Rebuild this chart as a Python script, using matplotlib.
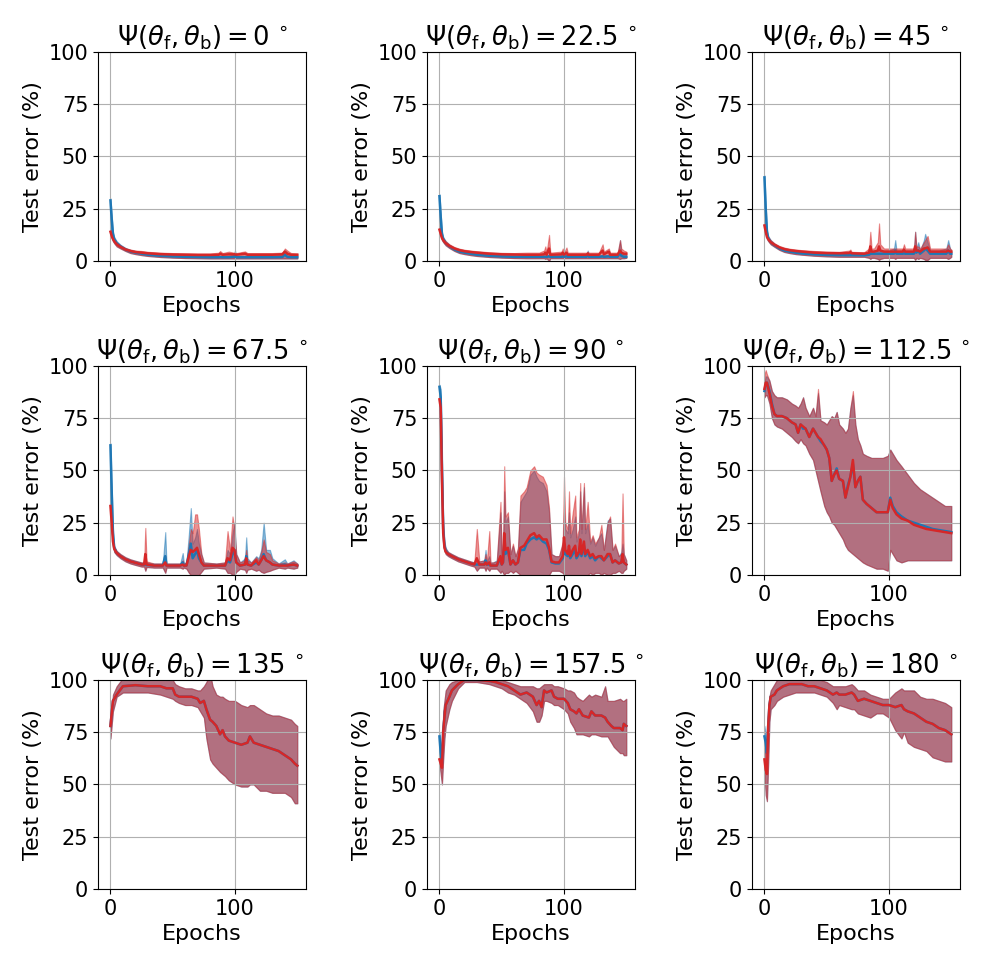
import numpy as np
import matplotlib
matplotlib.use("Agg")
import matplotlib.pyplot as plt

# angle between forward and backward weights, one panel each
angles = ["0", "22.5", "45", "67.5", "90", "112.5", "135", "157.5", "180"]

# columns: epoch, blue mean, red mean, band low, blue band high, red band high
rows_0 = [
    (0, 29, 14, 13, 30, 15), (1, 20, 12, 11, 22, 13), (2, 13, 10.5, 9.5, 14, 11.5),
    (3, 10.5, 9.5, 8.5, 11.5, 10.5), (5, 8.5, 8, 7, 9.5, 9), (8, 7, 6.8, 6, 7.8, 7.5),
    (12, 5.5, 5.5, 4.8, 6.3, 6.2), (16, 4.5, 4.8, 3.8, 5.3, 5.5), (20, 4, 4.3, 3.3, 4.8, 5),
    (25, 3.5, 4, 2.8, 4.3, 4.8), (30, 3, 3.7, 2.4, 3.8, 4.4), (40, 2.5, 3.3, 1.9, 3.2, 4),
    (50, 2.2, 3.1, 1.6, 2.9, 3.8), (60, 2, 3, 1.4, 2.7, 3.7), (70, 1.9, 2.9, 1.3, 2.6, 3.6),
    (80, 1.8, 2.9, 1.2, 2.5, 3.6), (87, 1.8, 3, 1.2, 2.5, 4), (88, 1.9, 3.5, 1.2, 2.6, 4.8),
    (90, 1.8, 3, 1.2, 2.5, 3.8), (95, 1.8, 3.2, 1.2, 2.6, 4.5), (99, 2, 3.2, 1.2, 3, 4),
    (100, 2.5, 3.2, 1.2, 5, 4), (101, 1.8, 3, 1.2, 2.6, 3.8), (108, 1.8, 3.5, 1.2, 2.6, 4.6),
    (110, 1.8, 3, 1.2, 2.6, 3.8), (120, 1.8, 3, 1.2, 2.6, 3.8), (130, 1.8, 3, 1.2, 2.6, 3.8),
    (138, 1.9, 3.2, 1.2, 3, 4), (140, 3, 4.5, 1.2, 5, 6), (142, 2, 3.5, 1.2, 4, 5),
    (145, 1.8, 3, 1.2, 2.6, 3.8), (150, 1.8, 3, 1.2, 2.6, 3.6),
]

rows_22 = [
    (0, 31, 15, 14, 32, 16), (1, 21, 13, 12, 23, 14), (2, 13, 11, 10, 14, 12),
    (3, 10.5, 10, 9, 11.5, 11), (5, 8.5, 8.5, 7.5, 9.5, 9.5), (8, 7, 7.2, 6.2, 7.8, 8),
    (12, 5.5, 6, 4.8, 6.3, 6.7), (16, 4.5, 5.2, 3.8, 5.3, 5.9), (20, 4, 4.7, 3.3, 4.8, 5.4),
    (25, 3.5, 4.3, 2.8, 4.3, 5), (30, 3, 4, 2.4, 3.8, 4.7), (40, 2.5, 3.5, 1.9, 3.2, 4.2),
    (50, 2.2, 3.2, 1.6, 2.9, 3.9), (60, 2, 3.1, 1.4, 2.7, 3.8), (70, 2, 3, 1.3, 2.7, 4),
    (80, 2, 3, 1.3, 2.7, 4), (84, 2, 3.2, 1.3, 2.7, 5), (85, 2, 4, 1, 2.7, 7),
    (86, 2, 3, 1.3, 2.7, 4), (88, 2.2, 6, 0, 3, 12.5), (89, 2, 3, 1.3, 2.7, 4),
    (98, 2, 3.2, 1.3, 2.8, 4.5), (99, 2.2, 4, 1.3, 3, 6), (100, 2, 3, 1.3, 2.7, 4),
    (102, 2.2, 4, 1.3, 3, 6.5), (103, 2, 3, 1.3, 2.7, 4), (110, 2, 3, 1.3, 2.7, 4),
    (118, 2, 3, 1.3, 2.7, 4), (119, 3, 3.5, 1.3, 5, 4.5), (120, 2, 3, 1.3, 2.7, 4),
    (128, 2, 3, 1.3, 2.7, 4), (131, 2.2, 5, 1.3, 3, 8), (132, 2, 3.2, 1.3, 2.7, 4.5),
    (136, 2.2, 4.5, 1.3, 3, 6), (137, 2, 3, 1.3, 2.7, 4), (143, 2, 3, 1.3, 2.7, 4),
    (145, 4, 5, 1, 10, 10), (146, 2.5, 4, 1.3, 4, 6), (148, 2, 3.5, 1.3, 3, 5),
    (150, 2, 3.5, 1.5, 3, 4.5),
]

rows_45 = [
    (0, 40, 17, 16, 41, 18), (1, 25, 14, 13, 27, 15), (2, 14, 11.5, 10.5, 15, 12.5),
    (3, 11, 10.5, 9.5, 12, 11.5), (5, 9, 9, 8, 10, 10), (8, 7.5, 7.8, 6.8, 8.3, 8.5),
    (12, 6, 6.5, 5.3, 6.8, 7.2), (16, 5, 5.7, 4.3, 5.8, 6.4), (20, 4.5, 5.2, 3.8, 5.3, 5.9),
    (25, 4, 4.8, 3.3, 4.8, 5.5), (30, 3.6, 4.5, 3, 4.4, 5.2), (40, 3.2, 4, 2.5, 4, 4.8),
    (50, 2.9, 3.8, 2.2, 3.7, 4.5), (60, 2.8, 3.7, 2, 3.6, 4.4), (68, 2.8, 3.8, 2, 3.6, 5),
    (69, 2.8, 4.2, 2, 3.6, 5.5), (70, 2.8, 3.7, 2, 3.6, 4.4), (80, 2.7, 3.5, 2, 3.5, 4.2),
    (84, 3, 4, 1.5, 4, 6), (85, 3.5, 7, 1, 5, 14), (86, 3.5, 4.5, 1.5, 5, 6),
    (88, 3.5, 4.5, 1.5, 5, 6), (91, 3.5, 5, 1, 5, 9), (92, 3.5, 7, 0.5, 6, 18),
    (93, 3.5, 5, 1, 5, 8), (96, 3.5, 4.5, 1.5, 5, 6), (100, 3.5, 4.5, 1.5, 5, 6),
    (104, 3.5, 4.5, 1.5, 6, 6), (105, 5, 4.5, 1, 10, 6), (106, 3.5, 4.5, 1.5, 5, 6),
    (111, 3.5, 4.5, 1.5, 5, 6), (112, 3.7, 5.5, 1.5, 5, 8), (113, 3.5, 4.5, 1.5, 5, 6),
    (120, 3.5, 4.5, 1.5, 5, 6), (121, 6, 7, 0.5, 14, 14), (122, 4, 5, 1.5, 6, 7),
    (123.5, 5, 5, 1, 9, 7), (125, 3.5, 4.5, 1.5, 5, 6), (128, 5, 6, 1, 10, 9),
    (129, 6, 6, 0.5, 13, 10), (131, 5, 6.5, 0.5, 9, 12), (133, 3.5, 4.5, 1.5, 5, 6),
    (140, 3.5, 4.5, 1.5, 5, 6), (146, 3.5, 4.5, 1.5, 6, 6), (147.5, 5, 5, 1, 10, 8),
    (149, 3.5, 4.5, 1.5, 6, 6), (150, 3.5, 4.5, 2, 5, 5.5),
]

rows_67 = [
    (0, 62, 33, 30, 63, 34), (1, 40, 25, 22, 42, 27), (2, 20, 16, 14, 22, 18),
    (3, 13, 12.5, 11, 14, 13.5), (5, 10.5, 10.5, 9.5, 11.5, 11.5), (8, 9, 9, 8, 10, 10),
    (12, 7.5, 7.5, 6.5, 8.5, 8.5), (16, 6.5, 6.5, 5.5, 7.5, 7.5), (20, 5.8, 5.8, 4.8, 6.8, 6.8),
    (25, 5, 5, 4, 6, 6), (27, 5, 5, 4, 6, 6), (28, 5, 10, 2, 6.5, 22.5),
    (29, 4.8, 5, 3.8, 6, 6.5), (35, 4.5, 4.5, 3.5, 5.5, 5.5), (42, 4.5, 4.5, 3.5, 5.5, 5.5),
    (44, 9, 6, 1, 20.5, 9), (45, 4.5, 4.5, 3.5, 5.5, 5.5), (56, 4.5, 4.5, 3.5, 5.5, 5.5),
    (58, 6, 5, 3, 10.5, 7), (59, 4.5, 4.5, 3.5, 5.5, 5.5), (61, 4.5, 4.5, 3, 6, 6),
    (63, 10, 9, 1, 20, 15), (64.5, 15, 12, 0, 32, 22), (66, 8, 11, 0, 15, 20),
    (68, 10, 12, 0, 18, 29), (69.5, 12, 13, 0, 22, 29), (71, 8, 10, 0, 15, 22),
    (73, 6, 6, 1.5, 10, 10), (75, 4.5, 4.5, 3, 6, 6), (85, 4.5, 4.5, 3.5, 5.5, 5.5),
    (92, 4.5, 4.5, 3, 6, 6), (94, 7, 8, 1, 12, 21), (96, 6, 7, 1, 10, 12),
    (98, 10, 13, 0, 20, 28), (99.5, 12, 12, 0, 25, 22), (101, 6, 6, 1.5, 10, 10),
    (104, 4.5, 4.5, 3, 6, 6), (108, 5, 5, 2.5, 8, 7), (109, 9, 8, 1, 18, 12),
    (110, 5, 5, 2.5, 8, 7), (113, 4.5, 4.5, 3, 6, 6), (117, 6, 7, 2, 9, 8.5),
    (119, 5, 5, 2.5, 8, 7), (121, 7, 7, 1.5, 12, 11), (123, 10, 9, 1, 25, 17),
    (125, 7, 7, 1.5, 12, 11), (128, 6, 6, 2, 12, 10), (130, 5, 5, 2.5, 8, 7),
    (135, 4.5, 4.5, 3.5, 5.5, 5.5), (140, 5, 4.5, 3, 7.5, 6), (142, 4.5, 4.5, 3.5, 5.5, 5.5),
    (147, 5, 5, 3, 7, 6.5), (150, 4.5, 4.5, 3.5, 5.5, 5.5),
]

rows_90 = [
    (0, 90, 84, 82, 91, 86), (1, 85, 80, 75, 89, 84), (2, 50, 45, 35, 60, 55),
    (3, 22, 20, 17, 26, 24), (4, 14, 13, 12, 16, 15), (5, 11.5, 11, 10, 13, 12.5),
    (7, 10, 10, 9, 11, 11), (10, 9, 9, 8, 10, 10), (15, 7.5, 7.5, 6.5, 8.5, 8.5),
    (20, 6.5, 6.5, 5.5, 7.5, 7.5), (25, 5.5, 5.5, 4.5, 6.5, 6.5), (28, 5, 5, 4, 6, 6),
    (30, 5, 8, 2, 7, 22), (32, 5, 5, 3.5, 6.5, 6.5), (36, 5, 5, 3.5, 7, 7),
    (37, 7, 6, 2, 12, 10), (38, 5, 5, 3.5, 6.5, 6), (40, 5, 6, 2, 9, 21),
    (41, 4.5, 4.5, 3, 6, 6), (43, 4.5, 4.5, 3, 6, 6), (46, 4.5, 4.5, 3, 7, 6.5),
    (49, 8, 9, 1, 30, 35), (50, 5, 5, 2, 8, 8), (51, 6, 6, 1, 12, 12),
    (52, 15, 20, 0, 40, 52), (53, 10, 12, 1, 25, 28), (55, 12, 13, 1, 28, 30),
    (57, 5, 5, 2, 10, 10), (59, 7, 7, 1, 14, 15), (61, 5, 5, 2, 9, 9),
    (63, 6, 6, 1, 12, 13), (65, 12, 13, 0, 35, 38), (68, 12, 14, 0, 38, 40),
    (70, 15, 16, 0, 40, 42), (73, 17, 19, 0, 48, 50), (76, 18, 20, 0, 50, 52),
    (78, 17, 18, 0, 47, 49), (80, 18, 19, 0, 45, 48), (83, 16, 17, 0, 44, 47),
    (86, 15, 17, 0, 40, 43), (88, 12, 13, 0, 30, 32), (90, 6, 6.5, 2, 10, 10),
    (93, 5.5, 6, 2, 9, 9), (96, 5.5, 6, 2, 9, 9), (99, 8, 9, 1, 15, 16),
    (100, 14, 18, 0, 30, 47), (101, 10, 12, 0, 22, 25), (103, 9, 10, 0, 20, 22),
    (104, 12, 14, 0, 30, 40), (105, 8, 9, 0, 18, 20), (107, 10, 12, 0, 22, 30),
    (109, 12, 14, 0, 28, 38), (110, 8, 9, 0, 16, 18), (112, 10, 11, 0, 20, 22),
    (113, 14, 17, 0, 40, 44), (114, 9, 10, 0, 20, 22), (116, 14, 16, 0, 42, 44),
    (117, 9, 10, 0, 20, 22), (119, 11, 12, 0, 25, 35), (121, 8, 9, 1, 15, 16),
    (123, 9, 10, 0, 18, 19), (125, 7, 8, 1, 14, 15), (128, 9, 9, 1, 18, 18),
    (130, 8, 9, 0, 20, 24), (132, 7, 7, 1, 12, 12), (135, 9, 10, 0, 26, 25),
    (137, 10, 10, 0, 27, 28), (139, 6, 6, 1, 12, 12), (141, 7, 7, 1, 14, 15),
    (144, 5.5, 5.5, 2, 9, 9), (146, 6, 6, 1, 11, 10), (147, 8, 10, 1, 15, 39),
    (148, 6, 6, 2, 10, 10), (150, 5, 5, 3, 7, 7),
]

rows_112 = [
    (0, 88, 89, 85, 92, 96), (1, 91, 92, 86, 95, 98), (2, 92, 92, 86, 95, 96),
    (4, 88, 87, 82, 93, 93), (6, 82, 81, 75, 88, 88), (8, 77, 77, 72, 86, 86),
    (10, 76, 76, 71, 85, 85), (14, 76, 76, 70, 85, 85), (18, 75, 75, 68, 84, 84),
    (22, 73, 73, 66, 82, 82), (25, 72, 72, 64, 81, 81), (27, 68, 68, 63, 80, 80),
    (29, 72, 72, 65, 82, 82), (31, 70, 71, 63, 85, 85), (33, 70, 70, 62, 80, 80),
    (36, 66, 66, 58, 76, 76), (39, 70, 70, 55, 80, 80), (41, 68, 68, 50, 76, 76),
    (43, 66, 66, 45, 87, 89), (45, 64, 65, 40, 74, 74), (48, 62, 62, 33, 73, 73),
    (50, 60, 60, 30, 72, 72), (52, 56, 56, 28, 74, 74), (54, 45, 45, 25, 76, 76),
    (56, 48, 48, 24, 75, 75), (58, 51, 50, 22, 78, 78), (60, 46, 46, 20, 72, 72),
    (63, 45, 45, 17, 70, 70), (65, 37, 37, 14, 68, 68), (67, 43, 42, 12, 70, 70),
    (69, 47, 47, 11, 80, 80), (71, 53, 55, 10, 86, 88), (73, 42, 42, 9, 72, 72),
    (75, 45, 45, 8, 65, 65), (77, 47, 47, 7, 62, 62), (79, 36, 36, 6, 58, 58),
    (82, 34, 34, 5, 57, 57), (86, 32, 32, 4, 56, 56), (90, 30, 30, 3, 56, 56),
    (95, 30, 30, 3, 56, 56), (99, 30, 30, 2, 57, 57), (101, 37, 36, 12, 60, 60),
    (103, 33, 32, 10, 58, 58), (106, 30, 29, 7, 55, 55), (110, 28, 27, 6, 52, 52),
    (115, 26, 26, 7, 48, 48), (120, 25, 24, 7, 44, 44), (125, 24, 23, 7, 41, 41),
    (130, 23, 22, 7, 39, 39), (135, 22, 21.5, 7, 37, 37), (140, 21.5, 21, 7, 35, 35),
    (145, 21, 20.5, 7, 33, 33), (150, 20.5, 20, 7, 33, 33),
]

rows_135 = [
    (0, 78, 78, 72, 79, 79), (2, 90, 90, 85, 93, 93), (5, 93, 93, 92, 97, 97),
    (10, 97, 97, 94, 101, 101), (20, 97.5, 97.5, 94, 101, 101), (30, 97, 97, 94, 101, 101),
    (40, 97, 97, 93, 101, 101), (45, 96, 96, 92, 100, 100), (50, 96, 96, 91, 100, 100),
    (52, 93, 93, 90, 98, 98), (55, 92, 92, 89, 97, 97), (60, 92, 92, 88, 96, 96),
    (65, 92, 92, 88, 96, 96), (70, 91, 91, 87, 95, 95), (72, 89, 89, 85, 95, 95),
    (75, 90, 90, 82, 97, 97), (77, 86, 86, 72, 99, 99), (80, 81, 81, 62, 103, 103),
    (82, 80, 80, 60, 97, 97), (85, 78, 78, 58, 93, 93), (88, 74, 74, 56, 92, 92),
    (90, 76, 76, 55, 92, 92), (92, 73, 73, 54, 91, 91), (95, 71, 71, 52, 90, 90),
    (100, 70, 70, 50, 90, 90), (105, 69, 69, 49, 88, 88), (110, 70, 70, 49, 87, 87),
    (112, 73, 73, 50, 88, 88), (115, 70, 70, 50, 88, 88), (120, 69, 69, 47, 86, 86),
    (125, 68, 68, 47, 84, 84), (130, 67, 67, 46, 83, 83), (135, 66, 66, 46, 83, 83),
    (140, 64, 64, 46, 82, 82), (145, 62, 62, 44, 81, 81), (148, 60, 60, 41, 79, 79),
    (150, 59, 59, 41, 78, 78),
]

rows_157 = [
    (0, 73, 62, 60, 75, 70), (1, 65, 60, 55, 70, 65), (2, 60, 58, 50, 65, 63),
    (3, 76, 75, 62, 85, 85), (4, 82, 82, 72, 90, 90), (5, 88, 88, 78, 95, 95),
    (8, 92, 92, 86, 98, 98), (10, 95, 95, 90, 99, 99), (15, 98, 98, 96, 100, 100),
    (20, 100, 100, 99, 100, 100), (30, 100, 100, 99, 100, 100), (40, 99.5, 99.5, 98, 100, 100),
    (45, 99, 99, 97, 100, 100), (50, 98, 98, 96, 100, 100), (55, 97, 97, 94, 99, 99),
    (60, 95, 95, 93, 98, 98), (65, 93, 93, 91, 97, 97), (70, 94, 94, 89, 97, 97),
    (75, 92, 92, 85, 97, 97), (78, 88, 88, 80, 96, 96), (80, 90, 90, 80, 96, 96),
    (82, 87, 87, 83, 97, 97), (84, 95, 95, 90, 98, 98), (86, 94, 94, 90, 98, 98),
    (90, 95, 95, 89, 98, 98), (92, 92, 92, 88, 97, 97), (95, 91, 91, 88, 97, 97),
    (100, 91, 91, 86, 96, 96), (103, 89, 89, 84, 95, 95), (105, 86, 86, 80, 95, 95),
    (108, 85, 85, 77, 94, 94), (110, 84, 84, 74, 92, 92), (112, 86, 86, 74, 91, 91),
    (115, 83, 83, 74, 90, 90), (120, 82, 82, 73, 93, 93), (122, 85, 85, 74, 92, 92),
    (125, 83, 83, 74, 93, 93), (130, 83, 83, 73, 92, 92), (133, 82, 82, 73, 97, 97),
    (135, 80, 80, 73, 90, 90), (138, 78, 78, 70, 90, 90), (140, 77, 77, 68, 90, 90),
    (145, 77, 77, 65, 91, 91), (147, 76, 76, 65, 90, 90), (148, 79, 79, 64, 90, 90),
    (150, 78, 78, 64, 91, 91),
]

rows_180 = [
    (0, 73, 62, 55, 78, 70), (1, 70, 57, 45, 74, 65), (2, 65, 55, 42, 70, 65),
    (3, 78, 78, 60, 85, 85), (4, 88, 88, 80, 92, 92), (5, 92, 92, 86, 95, 95),
    (8, 93, 93, 88, 98, 98), (10, 95, 95, 90, 100, 100), (15, 97, 97, 92, 101, 101),
    (20, 98, 98, 93, 101, 101), (25, 98, 98, 94, 101, 101), (30, 98, 98, 94, 101, 101),
    (35, 97, 97, 94, 101, 101), (40, 97, 97, 94, 101, 101), (45, 96, 96, 93, 100, 100),
    (50, 95, 95, 92, 99, 99), (55, 93, 93, 89, 97, 97), (58, 94, 94, 86, 97, 97),
    (60, 93, 93, 88, 97, 97), (65, 93, 93, 87, 97, 97), (70, 94, 94, 86, 98, 98),
    (72, 93, 93, 86, 97, 97), (75, 90, 90, 84, 95, 95), (80, 91, 91, 83, 95, 95),
    (85, 90, 90, 82, 93, 93), (90, 89, 89, 84, 92, 92), (95, 88, 88, 84, 91, 91),
    (100, 88, 88, 82, 91, 91), (105, 87, 87, 76, 94, 94), (110, 88, 88, 72, 96, 96),
    (112, 86, 86, 75, 95, 95), (115, 85, 85, 70, 95, 95), (120, 84, 84, 68, 95, 95),
    (125, 82, 82, 67, 92, 92), (130, 80, 80, 66, 91, 91), (135, 79, 79, 63, 91, 91),
    (140, 77, 77, 62, 90, 90), (145, 76, 76, 61, 89, 89), (150, 74, 74, 61, 87, 87),
]

panels = [rows_0, rows_22, rows_45, rows_67, rows_90, rows_112, rows_135, rows_157, rows_180]

plt.rcParams["font.family"] = "DejaVu Sans"
fig = plt.figure(figsize=(10, 9.66), dpi=100)

lefts = [0.098, 0.427, 0.752]
bottoms = [0.7298, 0.4048, 0.0797]
w, h = 0.208, 0.2164

for i, (ang, rows) in enumerate(zip(angles, panels)):
    ax = fig.add_axes([lefts[i % 3], bottoms[i // 3], w, h])
    ep, blue, red, lo, bhi, rhi = np.array(rows, dtype=float).T

    # bands first, means on top
    ax.fill_between(ep, lo, bhi, color="tab:blue", alpha=0.5, lw=0.8)
    ax.fill_between(ep, lo, rhi, color="tab:red", alpha=0.5, lw=0.8)
    ax.plot(ep, blue, color="tab:blue", lw=1.8)
    ax.plot(ep, red, color="tab:red", lw=1.8)

    ax.set_xlim(-10, 157)
    ax.set_ylim(0, 100)
    ax.set_xticks([0, 100])
    ax.set_yticks([0, 25, 50, 75, 100])
    ax.grid(True)
    ax.tick_params(labelsize=15)
    ax.set_xlabel("Epochs", fontsize=16, labelpad=4)
    ax.set_ylabel("Test error (%)", fontsize=16)
    ax.set_title(r"$\Psi(\theta_\mathrm{f}, \theta_\mathrm{b}) = " + ang + r"\,^\circ$",
                 fontsize=18.5, pad=4)

fig.savefig("out.png", dpi=100)
